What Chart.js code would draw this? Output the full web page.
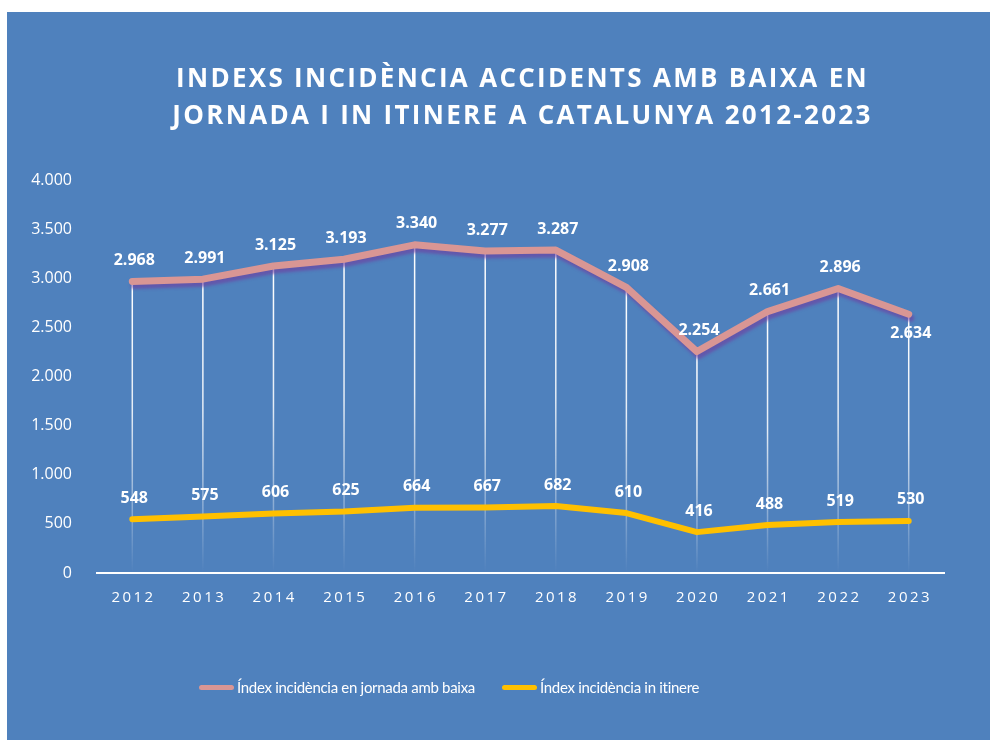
<!DOCTYPE html>
<html lang="ca">
<head>
    <meta charset="UTF-8">
    <title>Indexs incidència accidents</title>
    <script src="https://cdn.jsdelivr.net/npm/chart.js@4.4.1/dist/chart.umd.min.js"></script>
    <style>
        body {
            margin: 0;
            background-color: #ffffff;
        }
        .panel {
            position: absolute;
            left: 7px;
            top: 12px;
            width: 983px;
            height: 728px;
            background-color: #4f81bd;
        }
        .title {
            position: absolute;
            left: 48px;
            right: 0;
            top: 47px;
            text-align: center;
            color: #ffffff;
            font: bold 26px 'Open Sans', sans-serif;
            letter-spacing: 2.3px;
            line-height: 37px;
        }
        .chart-box {
            position: absolute;
            left: 0;
            top: 0;
            width: 983px;
            height: 728px;
        }
        .legend {
            position: absolute;
            left: 192px;
            top: 666px;
            display: flex;
            gap: 27px;
            color: #ffffff;
            font: 15px Lato, sans-serif;
            letter-spacing: -0.3px;
        }
        .legend-item {
            display: flex;
            align-items: center;
        }
        .legend-swatch {
            width: 35px;
            height: 5px;
            border-radius: 3px;
            margin-right: 3px;
        }
    </style>
</head>
<body>
    <div class="panel">
        <div class="chart-box"><canvas id="chart"></canvas></div>
        <div class="title">INDEXS INCIDÈNCIA ACCIDENTS AMB BAIXA EN<br>JORNADA I IN ITINERE A CATALUNYA 2012-2023</div>
        <div class="legend" id="legend"></div>
    </div>

    <script>
        const years = ['2012', '2013', '2014', '2015', '2016', '2017', '2018', '2019', '2020', '2021', '2022', '2023'];
        const jornada = [2968, 2991, 3125, 3193, 3340, 3277, 3287, 2908, 2254, 2661, 2896, 2634];
        const itinere = [548, 575, 606, 625, 664, 667, 682, 610, 416, 488, 519, 530];
        const seriesNames = ['Índex incidència en jornada amb baixa', 'Índex incidència in itinere'];
        const yTicks = [0, 500, 1000, 1500, 2000, 2500, 3000, 3500, 4000];

        const pink = '#d99694';
        const yellow = '#ffc000';

        function fmt(v) {
            return String(v).replace(/\B(?=(\d{3})+(?!\d))/g, '.');
        }

        // white drop lines from the jornada points, fading towards the axis
        const dropLines = {
            id: 'dropLines',
            beforeDatasetsDraw(chart) {
                const ctx = chart.ctx;
                const bottom = chart.chartArea.bottom;
                ctx.save();
                chart.getDatasetMeta(0).data.forEach(p => {
                    const g = ctx.createLinearGradient(0, p.y, 0, bottom);
                    g.addColorStop(0, 'rgba(255,255,255,1)');
                    g.addColorStop(0.45, 'rgba(255,255,255,0.85)');
                    g.addColorStop(1, 'rgba(255,255,255,0)');
                    ctx.strokeStyle = g;
                    ctx.lineWidth = 1.5;
                    ctx.beginPath();
                    ctx.moveTo(p.x, p.y);
                    ctx.lineTo(p.x, bottom);
                    ctx.stroke();
                });
                ctx.restore();
            }
        };

        const lineShadow = {
            id: 'lineShadow',
            beforeDatasetDraw(chart, args) {
                if (args.index !== 0) return;
                const ctx = chart.ctx;
                ctx.save();
                ctx.shadowColor = 'rgba(112,60,160,0.6)';
                ctx.shadowOffsetX = 2;
                ctx.shadowOffsetY = 4;
                ctx.shadowBlur = 3;
            },
            afterDatasetDraw(chart, args) {
                if (args.index !== 0) return;
                chart.ctx.restore();
            }
        };

        const valueLabels = {
            id: 'valueLabels',
            afterDatasetsDraw(chart) {
                const ctx = chart.ctx;
                ctx.save();
                ctx.fillStyle = '#ffffff';
                ctx.font = 'bold 16px "Open Sans", sans-serif';
                ctx.textAlign = 'center';
                ctx.textBaseline = 'middle';
                chart.data.datasets.forEach((ds, di) => {
                    chart.getDatasetMeta(di).data.forEach((p, i) => {
                        const below = di === 0 && i === ds.data.length - 1;
                        const y = below ? p.y + 19 : p.y - 21;
                        ctx.fillText(fmt(ds.data[i]), p.x + 2, y);
                    });
                });
                ctx.restore();
            }
        };

        // category labels with letter spacing, drawn on the x scale positions
        const yearLabels = {
            id: 'yearLabels',
            afterDraw(chart) {
                const ctx = chart.ctx;
                const xs = chart.scales.x;
                ctx.save();
                ctx.fillStyle = '#ffffff';
                ctx.font = '15px "Open Sans", sans-serif';
                ctx.letterSpacing = '2.5px';
                ctx.textAlign = 'center';
                ctx.textBaseline = 'middle';
                years.forEach((y, i) => {
                    ctx.fillText(y, xs.getPixelForValue(i) + 1.25, chart.chartArea.bottom + 25);
                });
                ctx.restore();
            }
        };

        const chart = new Chart(document.getElementById('chart'), {
            type: 'line',
            data: {
                labels: years,
                datasets: [{
                    label: seriesNames[0],
                    data: jornada,
                    borderColor: pink,
                    backgroundColor: pink,
                    borderWidth: 7,
                    borderCapStyle: 'round',
                    borderJoinStyle: 'round',
                    pointRadius: 0,
                    tension: 0
                }, {
                    label: seriesNames[1],
                    data: itinere,
                    borderColor: yellow,
                    backgroundColor: yellow,
                    borderWidth: 6,
                    borderCapStyle: 'round',
                    borderJoinStyle: 'round',
                    pointRadius: 0,
                    tension: 0
                }]
            },
            options: {
                responsive: true,
                maintainAspectRatio: false,
                animation: false,
                layout: {
                    padding: { top: 168, left: 0, right: 46, bottom: 127 }
                },
                plugins: {
                    legend: { display: false },
                    tooltip: { enabled: false }
                },
                scales: {
                    x: {
                        offset: true,
                        grid: { display: false },
                        border: { display: true, color: '#ffffff', width: 2 },
                        ticks: { display: false },
                        afterFit(scale) { scale.height = 40; }
                    },
                    y: {
                        min: 0,
                        max: 4000,
                        grid: { display: false },
                        border: { display: false },
                        afterBuildTicks(scale) {
                            scale.ticks = yTicks.map(v => ({ value: v }));
                        },
                        afterFit(scale) { scale.width = 90; },
                        ticks: {
                            color: '#ffffff',
                            padding: 17,
                            font: { family: '"Open Sans", sans-serif', size: 16 },
                            callback: v => fmt(v)
                        }
                    }
                }
            },
            plugins: [dropLines, lineShadow, valueLabels, yearLabels]
        });

        // legend built from the datasets
        const legend = document.getElementById('legend');
        chart.data.datasets.forEach(ds => {
            const item = document.createElement('div');
            item.className = 'legend-item';
            item.innerHTML = `<span class="legend-swatch" style="background:${ds.borderColor}"></span><span>${ds.label}</span>`;
            legend.appendChild(item);
        });
    </script>
</body>
</html>
